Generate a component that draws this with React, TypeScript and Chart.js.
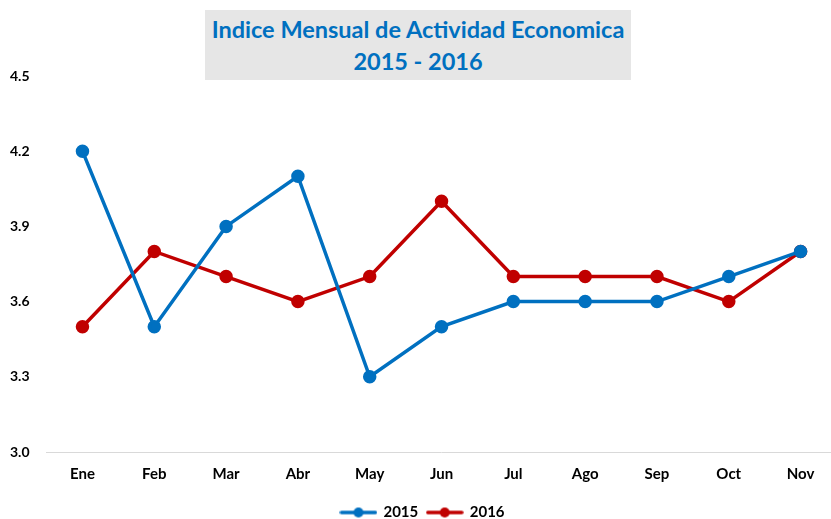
import React, { useEffect, useRef } from "react";
import { Chart, registerables } from "chart.js";

Chart.register(...registerables);

const months = ["Ene", "Feb", "Mar", "Abr", "May", "Jun", "Jul", "Ago", "Sep", "Oct", "Nov"];
const values2015 = [4.2, 3.5, 3.9, 4.1, 3.3, 3.5, 3.6, 3.6, 3.6, 3.7, 3.8];
const values2016 = [3.5, 3.8, 3.7, 3.6, 3.7, 4.0, 3.7, 3.7, 3.7, 3.6, 3.8];
const seriesNames = ["2015", "2016"];
const titleLines = ["Indice Mensual de Actividad Economica", "2015 - 2016"];

const BLUE = "#0070C0";
const RED = "#C00000";
const FONT = "Lato, 'Open Sans', sans-serif";

function makeMarker(color: string): HTMLCanvasElement {
  const c = document.createElement("canvas");
  c.width = 38;
  c.height = 12;
  const ctx = c.getContext("2d")!;
  ctx.strokeStyle = color;
  ctx.lineWidth = 3.5;
  ctx.lineCap = "round";
  ctx.beginPath();
  ctx.moveTo(2, 6);
  ctx.lineTo(36, 6);
  ctx.stroke();
  ctx.fillStyle = color;
  ctx.beginPath();
  ctx.arc(19, 6, 5, 0, Math.PI * 2);
  ctx.fill();
  return c;
}

export default function App() {
  const ref = useRef<HTMLCanvasElement>(null);
  useEffect(() => {
    const markers = [makeMarker(BLUE), makeMarker(RED)];
    const chart = new Chart(ref.current!, {
      type: "line",
      data: {
        labels: months,
        datasets: [
          {
            label: seriesNames[0],
            data: values2015,
            borderColor: BLUE,
            backgroundColor: BLUE,
            borderWidth: 3.5,
            pointRadius: 5,
            pointBackgroundColor: BLUE,
            pointBorderColor: BLUE,
            tension: 0,
          },
          {
            label: seriesNames[1],
            data: values2016,
            borderColor: RED,
            backgroundColor: RED,
            borderWidth: 3.5,
            pointRadius: 5,
            pointBackgroundColor: RED,
            pointBorderColor: RED,
            tension: 0,
          },
        ],
      },
      options: {
        animation: false,
        responsive: false,
        maintainAspectRatio: false,
        layout: { padding: { top: 76, left: -7, right: -7.5, bottom: -11 } },
        scales: {
          x: {
            offset: true,
            grid: { display: false, drawTicks: false },
            border: { display: true, color: "#D9D9D9", width: 1 },
            ticks: {
              color: "#000",
              padding: 13,
              font: { family: FONT, weight: "bold", size: 15 },
              maxRotation: 0,
            },
          },
          y: {
            min: 3.0,
            max: 4.5,
            grid: { display: false, drawTicks: false },
            border: { display: false },
            ticks: {
              stepSize: 0.3,
              color: "#000",
              padding: 17,
              font: { family: FONT, weight: "bold", size: 14 },
              callback: (v: any) => Number(v).toFixed(1),
            },
          },
        },
        plugins: {
          title: { display: false },
          tooltip: { enabled: false },
          legend: {
            display: true,
            position: "bottom",
            labels: {
              usePointStyle: true,
              pointStyleWidth: 35,
              padding: 9,
              color: "#000",
              font: { family: FONT, weight: "bold", size: 15 },
              generateLabels: (ch: any) =>
                ch.data.datasets.map((ds: any, i: number) => ({
                  text: ds.label,
                  fillStyle: ds.borderColor,
                  strokeStyle: ds.borderColor,
                  pointStyle: markers[i],
                  datasetIndex: i,
                  hidden: false,
                  fontColor: "#000",
                })),
            },
          },
        },
      },
    });
    return () => chart.destroy();
  }, []);

  return (
    <div style={{ position: "absolute", left: 0, top: 0, width: 831, height: 519, background: "#fff", overflow: "hidden" }}>
      <canvas ref={ref} width={845} height={519} style={{ display: "block" }} />
      <div
        style={{
          position: "absolute",
          left: 205,
          top: 10,
          width: 426,
          height: 70,
          background: "#E6E6E6",
          color: BLUE,
          fontFamily: FONT,
          fontWeight: "bold",
          fontSize: 23.5,
          lineHeight: "32px",
          textAlign: "center",
          paddingTop: 3,
          boxSizing: "border-box",
          whiteSpace: "nowrap",
        }}
      >
        <div>{titleLines[0]}</div>
        <div>{titleLines[1]}</div>
      </div>
    </div>
  );
}
